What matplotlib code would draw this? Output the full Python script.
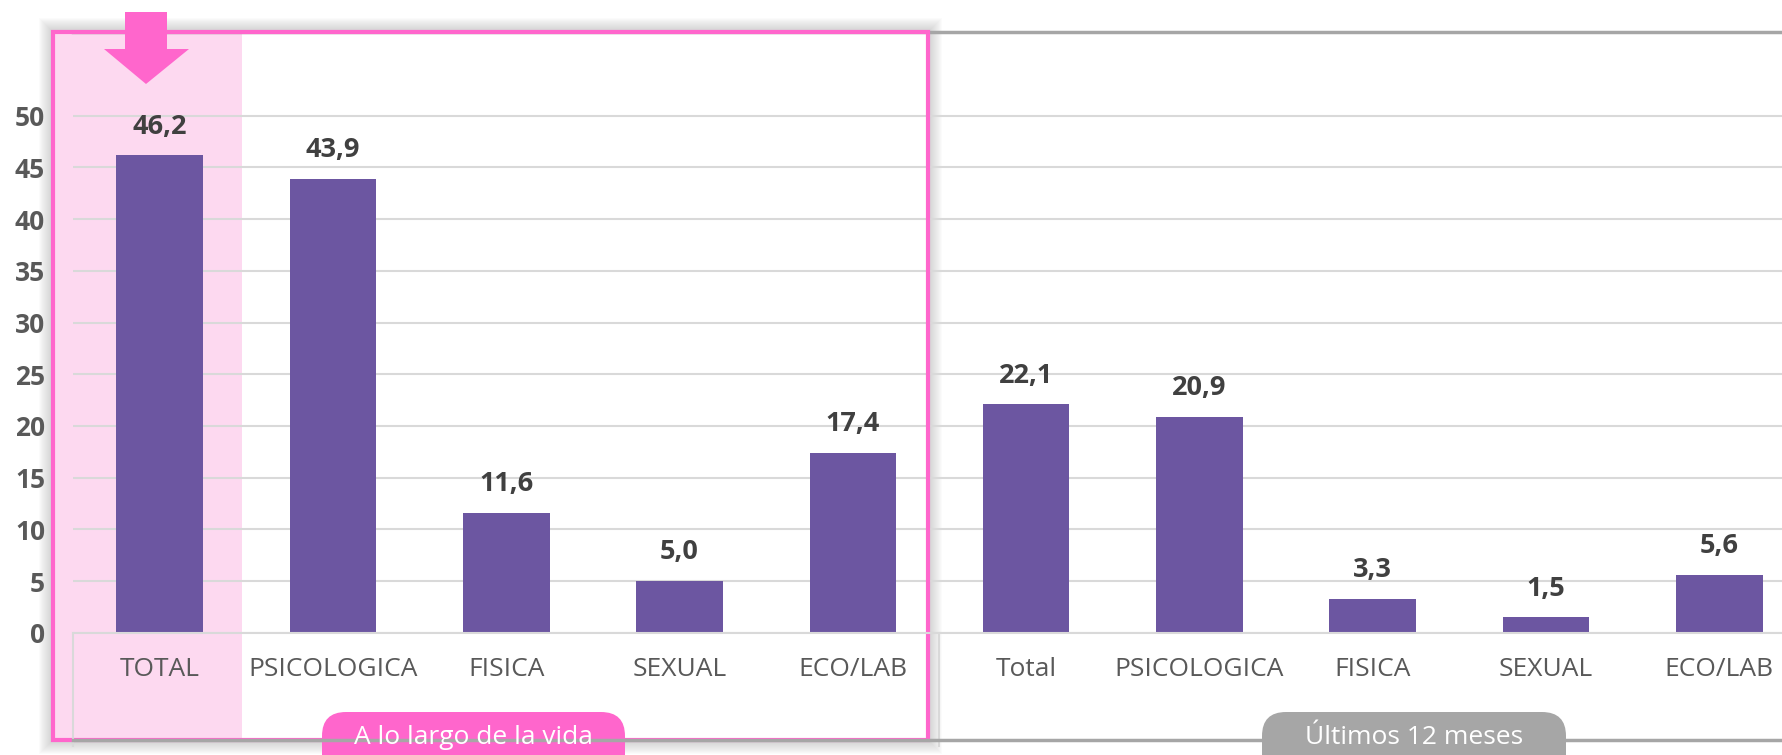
import matplotlib.pyplot as plt
from matplotlib.patches import Rectangle, Polygon, FancyBboxPatch

plt.rcParams['font.family'] = ['Open Sans', 'DejaVu Sans']

# data
categories = ['TOTAL', 'PSICOLOGICA', 'FISICA', 'SEXUAL', 'ECO/LAB',
              'Total', 'PSICOLOGICA', 'FISICA', 'SEXUAL', 'ECO/LAB']
values = [46.2, 43.9, 11.6, 5.0, 17.4, 22.1, 20.9, 3.3, 1.5, 5.6]
value_labels = ['46,2', '43,9', '11,6', '5,0', '17,4', '22,1', '20,9', '3,3', '1,5', '5,6']
group_names = ['A lo largo de la vida', 'Últimos 12 meses']
yticks = [0, 5, 10, 15, 20, 25, 30, 35, 40, 45, 50]

W, H = 1782, 755
fig = plt.figure(figsize=(W / 100, H / 100), dpi=100)

# background layer (pixel coords) : soft shadow + pink highlight
bg = fig.add_axes([0, 0, 1, 1], zorder=0)
bg.set_xlim(0, W)
bg.set_ylim(H, 0)
bg.axis('off')
for k in range(14, 0, -1):
    bg.add_patch(Rectangle((53 - k, 32 - k), 875 + 2 * k, 708 + 2 * k,
                           facecolor='#707070', edgecolor='none', alpha=0.022))
bg.add_patch(Rectangle((53, 32), 875, 708, facecolor='white', edgecolor='none'))
bg.add_patch(Rectangle((53, 32), 189, 708, facecolor='#FDD9F0', edgecolor='none'))

# main chart
ax = fig.add_axes([73 / W, (H - 632.7) / H, 1733 / W, 600.7 / H], zorder=1)
ax.patch.set_alpha(0)
x = list(range(len(values)))
ax.bar(x, values, width=0.5, color='#6C56A1', zorder=3)
for xi, v, lab in zip(x, values, value_labels):
    ax.text(xi, v + 1.5, lab, ha='center', va='bottom', fontsize=19.5,
            fontweight='bold', color='#404040')
ax.set_xlim(-0.5, 9.5)
ax.set_ylim(0, 58.1)
ax.set_yticks(yticks)
ax.set_yticklabels([str(t) for t in yticks])
ax.tick_params(axis='y', length=0, pad=20, labelsize=19, labelcolor='#595959')
for t in ax.get_yticklabels():
    t.set_fontweight('bold')
ax.set_xticks([])
ax.grid(axis='y', color='#D9D9D9', lw=1.5, zorder=0)
for s in ['left', 'right', 'bottom']:
    ax.spines[s].set_visible(False)
ax.spines['top'].set_color('#A6A6A6')
ax.spines['top'].set_linewidth(2.5)
for xi, c in zip(x, categories):
    ax.text(xi, -0.062, c, transform=ax.get_xaxis_transform(), ha='center',
            va='center', fontsize=19, color='#595959')

# overlay (pixel coords): axis frame lines, pink box, arrow, group labels
ov = fig.add_axes([0, 0, 1, 1], zorder=2)
ov.set_xlim(0, W)
ov.set_ylim(H, 0)
ov.axis('off')
ov.plot([73, W], [632.7, 632.7], color='#D9D9D9', lw=1.5)
ov.plot([73, 73], [632.7, 746], color='#D9D9D9', lw=1.5)
ov.plot([939, 939], [632.7, 746], color='#D9D9D9', lw=1.5)
ov.plot([73, W], [740, 740], color='#A6A6A6', lw=2.5)
ov.add_patch(Rectangle((53, 32), 875, 708, fill=False, edgecolor='#FF66CC', lw=3))
ov.add_patch(Polygon([(125, 12), (167, 12), (167, 49), (189, 49), (146, 84),
                      (104, 49), (125, 49)], closed=True, facecolor='#FF66CC',
                     edgecolor='none'))
ov.add_patch(FancyBboxPatch((322, 712), 303, 70, boxstyle='round,pad=0,rounding_size=24',
                            facecolor='#FF66CC', edgecolor='none'))
ov.text(473, 738, group_names[0], ha='center', va='center', fontsize=19, color='white')
ov.add_patch(FancyBboxPatch((1262, 712), 304, 70, boxstyle='round,pad=0,rounding_size=24',
                            facecolor='#A6A6A6', edgecolor='none'))
ov.text(1414, 738, group_names[1], ha='center', va='center', fontsize=19, color='white')

fig.savefig('out.png', dpi=100)
